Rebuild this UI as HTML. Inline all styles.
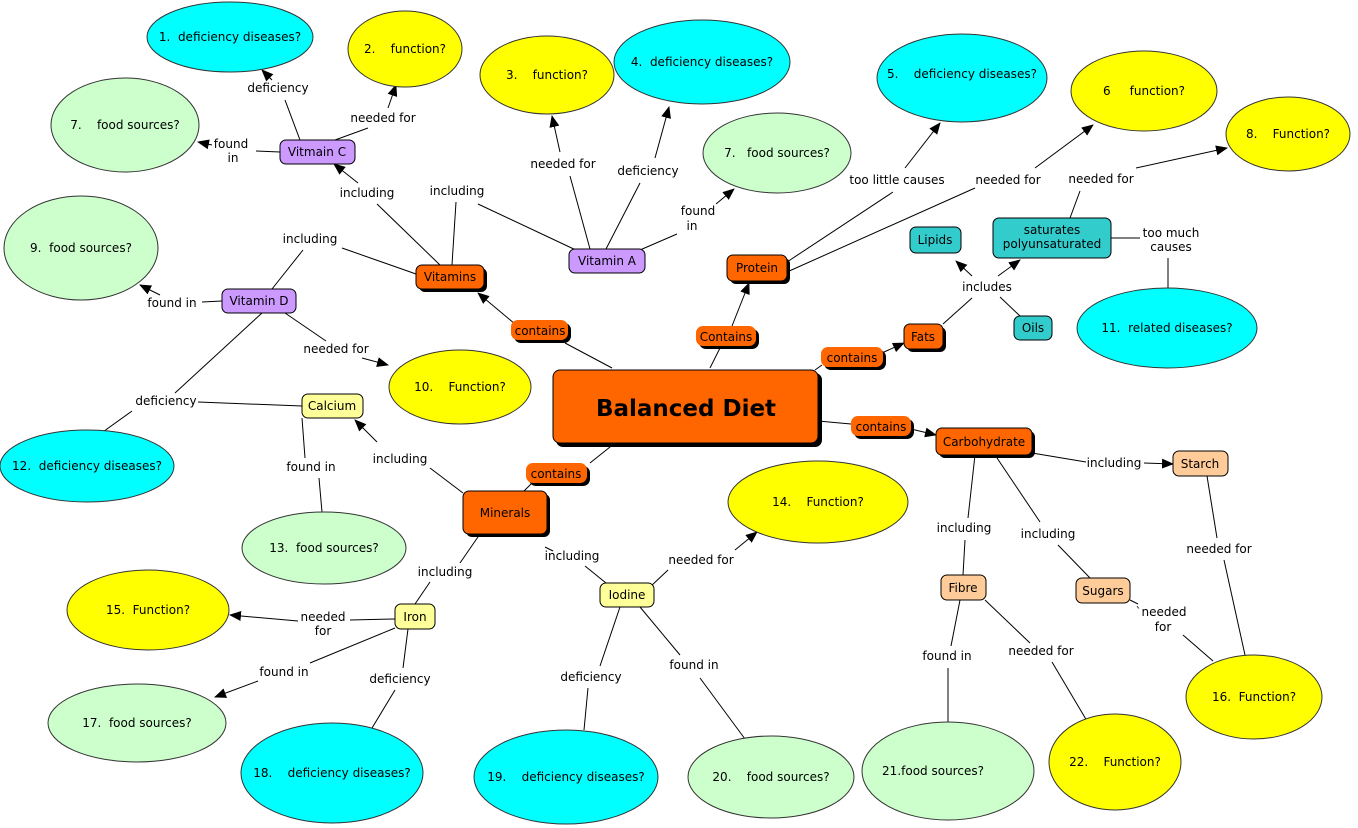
<!DOCTYPE html>
<html><head><meta charset="utf-8"><style>
html,body{margin:0;padding:0;background:#fff;}
svg{display:block;}
text{font-family:"DejaVu Sans","Liberation Sans",sans-serif;font-size:12px;fill:#000;white-space:pre;}
.l{stroke:#000;stroke-width:1;fill:none;}
.a{stroke:#000;stroke-width:1;fill:none;marker-end:url(#ar);}
.cy{fill:#00ffff;stroke:#333;stroke-width:1;}
.ye{fill:#ffff00;stroke:#333;stroke-width:1;}
.gr{fill:#ccffcc;stroke:#333;stroke-width:1;}
.or{fill:#ff6600;stroke:#000;stroke-width:1;}
.sh{fill:#000;}
.pu{fill:#cc99ff;stroke:#000;stroke-width:1;}
.te{fill:#33cccc;stroke:#000;stroke-width:1;}
.pe{fill:#ffcc99;stroke:#000;stroke-width:1;}
.ly{fill:#ffff99;stroke:#000;stroke-width:1;}
.pl{fill:#ff6600;}
</style></head><body>
<svg width="1358" height="828" viewBox="0 0 1358 828" xmlns="http://www.w3.org/2000/svg" xml:space="preserve">
<defs><marker id="ar" markerWidth="12" markerHeight="10" refX="11" refY="5" orient="auto" markerUnits="userSpaceOnUse"><path d="M0,0 L12,5 L0,10 z" fill="#000"/></marker></defs>

<g>
<line class="l" x1="300" y1="140" x2="285" y2="100"/><line class="a" x1="272" y1="80" x2="262" y2="70"/>
<line class="l" x1="335" y1="140" x2="368" y2="128"/><line class="a" x1="388" y1="108" x2="396" y2="85"/>
<line class="l" x1="280" y1="152" x2="256" y2="151"/><line class="a" x1="212" y1="145" x2="198" y2="142"/>
<line class="l" x1="440" y1="265" x2="377" y2="204"/><line class="a" x1="358" y1="183" x2="334" y2="164"/>
<line class="l" x1="452" y1="265" x2="456" y2="202"/><line class="l" x1="478" y1="204" x2="578" y2="251"/>
<line class="l" x1="416" y1="274" x2="342" y2="248"/><line class="l" x1="303" y1="250" x2="272" y2="289"/>
<line class="l" x1="222" y1="301" x2="202" y2="302"/><line class="a" x1="160" y1="295" x2="140" y2="285"/>
<line class="l" x1="285" y1="313" x2="326" y2="341"/><line class="a" x1="362" y1="358" x2="388" y2="365"/>
<line class="l" x1="262" y1="313" x2="175" y2="393"/><line class="l" x1="132" y1="411" x2="100" y2="434"/>
<line class="l" x1="302" y1="406" x2="198" y2="402"/>
<line class="l" x1="302" y1="418" x2="305" y2="458"/><line class="l" x1="319" y1="478" x2="322" y2="512"/>
<line class="l" x1="463" y1="493" x2="430" y2="468"/><line class="a" x1="377" y1="442" x2="355" y2="420"/>
<line class="l" x1="590" y1="249" x2="570" y2="176"/><line class="a" x1="560" y1="152" x2="552" y2="116"/>
<line class="l" x1="606" y1="249" x2="640" y2="183"/><line class="a" x1="655" y1="158" x2="669" y2="107"/>
<line class="l" x1="640" y1="250" x2="677" y2="234"/><line class="a" x1="716" y1="204" x2="734" y2="189"/>
<line class="l" x1="612" y1="368" x2="565" y2="343"/><line class="a" x1="515" y1="324" x2="478" y2="293"/>
<line class="l" x1="710" y1="368" x2="720" y2="348"/><line class="a" x1="732" y1="326" x2="749" y2="283"/>
<line class="l" x1="787" y1="262" x2="893" y2="192"/><line class="a" x1="905" y1="168" x2="940" y2="123"/>
<line class="l" x1="787" y1="272" x2="975" y2="188"/><line class="a" x1="1035" y1="168" x2="1093" y2="125"/>
<line class="l" x1="815" y1="370" x2="822" y2="365"/><line class="a" x1="884" y1="352" x2="904" y2="343"/>
<line class="l" x1="943" y1="324" x2="972" y2="298"/><line class="a" x1="972" y1="276" x2="956" y2="261"/><line class="a" x1="998" y1="276" x2="1020" y2="260"/>
<line class="l" x1="1020" y1="316" x2="1000" y2="297"/>
<line class="l" x1="1070" y1="218" x2="1080" y2="191"/><line class="a" x1="1136" y1="168" x2="1227" y2="148"/>
<line class="l" x1="1111" y1="238" x2="1140" y2="238"/><line class="l" x1="1168" y1="258" x2="1168" y2="288"/>
<line class="l" x1="818" y1="421" x2="851" y2="424"/><line class="a" x1="911" y1="429" x2="936" y2="435"/>
<line class="l" x1="1032" y1="453" x2="1086" y2="462"/><line class="a" x1="1144" y1="463" x2="1173" y2="464"/>
<line class="l" x1="975" y1="455" x2="968" y2="518"/><line class="l" x1="965" y1="540" x2="963" y2="575"/>
<line class="l" x1="995" y1="455" x2="1040" y2="522"/><line class="l" x1="1058" y1="545" x2="1090" y2="578"/>
<line class="l" x1="1207" y1="476" x2="1217" y2="538"/><line class="l" x1="1224" y1="560" x2="1245" y2="655"/>
<line class="l" x1="1130" y1="600" x2="1138" y2="604"/><line class="l" x1="1183" y1="635" x2="1213" y2="661"/>
<line class="l" x1="960" y1="600" x2="951" y2="646"/><line class="l" x1="948" y1="668" x2="948" y2="722"/>
<line class="l" x1="985" y1="600" x2="1030" y2="643"/><line class="l" x1="1052" y1="662" x2="1087" y2="721"/>
<line class="l" x1="615" y1="443" x2="590" y2="463"/><line class="l" x1="532" y1="483" x2="524" y2="491"/>
<line class="l" x1="480" y1="534" x2="460" y2="563"/><line class="l" x1="430" y1="582" x2="415" y2="604"/>
<line class="l" x1="545" y1="547" x2="553" y2="551"/><line class="l" x1="585" y1="566" x2="606" y2="583"/>
<line class="l" x1="650" y1="587" x2="668" y2="570"/><line class="a" x1="735" y1="550" x2="757" y2="532"/>
<line class="l" x1="620" y1="607" x2="600" y2="666"/><line class="l" x1="588" y1="688" x2="584" y2="730"/>
<line class="l" x1="640" y1="607" x2="680" y2="655"/><line class="l" x1="700" y1="678" x2="745" y2="739"/>
<line class="l" x1="395" y1="619" x2="350" y2="620"/><line class="a" x1="298" y1="621" x2="230" y2="615"/>
<line class="l" x1="395" y1="628" x2="310" y2="663"/><line class="a" x1="258" y1="681" x2="215" y2="697"/>
<line class="l" x1="408" y1="629" x2="403" y2="668"/><line class="l" x1="395" y1="690" x2="372" y2="728"/>
</g>

<ellipse class="cy" cx="230" cy="37" rx="83" ry="35"/><text x="230" y="41" text-anchor="middle">1.  deficiency diseases?</text>
<ellipse class="ye" cx="405" cy="49" rx="57" ry="38"/><text x="405" y="53" text-anchor="middle">2.    function?</text>
<ellipse class="ye" cx="547" cy="75" rx="67" ry="39"/><text x="547" y="79" text-anchor="middle">3.    function?</text>
<ellipse class="cy" cx="702" cy="62" rx="88" ry="42"/><text x="702" y="66" text-anchor="middle">4.  deficiency diseases?</text>
<ellipse class="gr" cx="777" cy="153" rx="74" ry="40"/><text x="777" y="157" text-anchor="middle">7.   food sources?</text>
<ellipse class="cy" cx="962" cy="78" rx="85" ry="44"/><text x="962" y="78" text-anchor="middle">5.    deficiency diseases?</text>
<ellipse class="ye" cx="1144" cy="91" rx="73" ry="40"/><text x="1144" y="95" text-anchor="middle">6     function?</text>
<ellipse class="ye" cx="1288" cy="134" rx="62" ry="37"/><text x="1288" y="138" text-anchor="middle">8.    Function?</text>
<ellipse class="gr" cx="125" cy="125" rx="74" ry="47"/><text x="125" y="129" text-anchor="middle">7.    food sources?</text>
<ellipse class="gr" cx="81" cy="248" rx="77" ry="52"/><text x="81" y="252" text-anchor="middle">9.  food sources?</text>
<ellipse class="ye" cx="460" cy="387" rx="71" ry="37"/><text x="460" y="391" text-anchor="middle">10.    Function?</text>
<ellipse class="cy" cx="1167" cy="328" rx="90" ry="40"/><text x="1167" y="332" text-anchor="middle">11.  related diseases?</text>
<ellipse class="cy" cx="87" cy="466" rx="87" ry="36"/><text x="87" y="470" text-anchor="middle">12.  deficiency diseases?</text>
<ellipse class="gr" cx="324" cy="548" rx="82" ry="36"/><text x="324" y="552" text-anchor="middle">13.  food sources?</text>
<ellipse class="ye" cx="818" cy="502" rx="90" ry="41"/><text x="818" y="506" text-anchor="middle">14.    Function?</text>
<ellipse class="ye" cx="148" cy="610" rx="81" ry="40"/><text x="148" y="614" text-anchor="middle">15.  Function?</text>
<ellipse class="ye" cx="1254" cy="697" rx="68" ry="42"/><text x="1254" y="701" text-anchor="middle">16.  Function?</text>
<ellipse class="gr" cx="137" cy="723" rx="89" ry="39"/><text x="137" y="727" text-anchor="middle">17.  food sources?</text>
<ellipse class="cy" cx="332" cy="773" rx="91" ry="50"/><text x="332" y="777" text-anchor="middle">18.    deficiency diseases?</text>
<ellipse class="cy" cx="566" cy="777" rx="92" ry="47"/><text x="566" y="781" text-anchor="middle">19.    deficiency diseases?</text>
<ellipse class="gr" cx="771" cy="777" rx="83" ry="41"/><text x="771" y="781" text-anchor="middle">20.    food sources?</text>
<ellipse class="gr" cx="948" cy="771" rx="86" ry="49"/><text x="933" y="775" text-anchor="middle">21.food sources?</text>
<ellipse class="ye" cx="1115" cy="762" rx="66" ry="48"/><text x="1115" y="766" text-anchor="middle">22.    Function?</text>

<rect class="sh" x="556" y="373" width="266" height="74" rx="7"/><rect class="or" x="553" y="370" width="265" height="73" rx="7"/>
<text x="686" y="416" text-anchor="middle" style="font-size:23px;font-weight:bold">Balanced Diet</text>
<rect class="sh" x="419" y="268" width="68" height="24" rx="6"/><rect class="or" x="416" y="265" width="68" height="24" rx="6"/><text x="450" y="281" text-anchor="middle">Vitamins</text>
<rect class="sh" x="730" y="258" width="60" height="26" rx="6"/><rect class="or" x="727" y="255" width="60" height="26" rx="6"/><text x="757" y="272" text-anchor="middle">Protein</text>
<rect class="sh" x="907" y="327" width="39" height="25" rx="6"/><rect class="or" x="904" y="324" width="39" height="25" rx="6"/><text x="923" y="341" text-anchor="middle">Fats</text>
<rect class="sh" x="939" y="431" width="96" height="27" rx="6"/><rect class="or" x="936" y="428" width="96" height="27" rx="6"/><text x="984" y="446" text-anchor="middle">Carbohydrate</text>
<rect class="sh" x="466" y="494" width="84" height="43" rx="6"/><rect class="or" x="463" y="491" width="84" height="43" rx="6"/><text x="505" y="517" text-anchor="middle">Minerals</text>

<rect class="sh" x="514" y="323" width="57" height="20" rx="7"/><rect class="pl" x="511" y="320" width="57" height="20" rx="7"/><text x="540" y="335" text-anchor="middle">contains</text>
<rect class="sh" x="699" y="329" width="60" height="20" rx="7"/><rect class="pl" x="696" y="326" width="60" height="20" rx="7"/><text x="726" y="341" text-anchor="middle">Contains</text>
<rect class="sh" x="824" y="350" width="62" height="20" rx="7"/><rect class="pl" x="821" y="347" width="62" height="20" rx="7"/><text x="852" y="362" text-anchor="middle">contains</text>
<rect class="sh" x="854" y="419" width="60" height="20" rx="7"/><rect class="pl" x="851" y="416" width="60" height="20" rx="7"/><text x="881" y="431" text-anchor="middle">contains</text>
<rect class="sh" x="529" y="466" width="61" height="20" rx="7"/><rect class="pl" x="526" y="463" width="61" height="20" rx="7"/><text x="556" y="478" text-anchor="middle">contains</text>

<rect class="pu" x="280" y="140" width="75" height="24" rx="6"/><text x="317" y="156" text-anchor="middle">Vitmain C</text>
<rect class="pu" x="569" y="249" width="76" height="24" rx="6"/><text x="607" y="265" text-anchor="middle">Vitamin A</text>
<rect class="pu" x="222" y="289" width="74" height="24" rx="6"/><text x="259" y="305" text-anchor="middle">Vitamin D</text>
<rect class="te" x="910" y="227" width="51" height="26" rx="6"/><text x="935" y="244" text-anchor="middle">Lipids</text>
<rect class="te" x="993" y="218" width="118" height="40" rx="6"/><text x="1052" y="234" text-anchor="middle">saturates</text><text x="1052" y="248" text-anchor="middle">polyunsaturated</text>
<rect class="te" x="1014" y="316" width="38" height="24" rx="6"/><text x="1033" y="332" text-anchor="middle">Oils</text>
<rect class="pe" x="1173" y="451" width="55" height="25" rx="6"/><text x="1200" y="468" text-anchor="middle">Starch</text>
<rect class="ly" x="302" y="394" width="61" height="24" rx="6"/><text x="332" y="410" text-anchor="middle">Calcium</text>
<rect class="ly" x="600" y="583" width="54" height="24" rx="6"/><text x="627" y="599" text-anchor="middle">Iodine</text>
<rect class="ly" x="395" y="604" width="40" height="25" rx="6"/><text x="415" y="621" text-anchor="middle">Iron</text>
<rect class="pe" x="941" y="575" width="45" height="25" rx="6"/><text x="963" y="592" text-anchor="middle">Fibre</text>
<rect class="pe" x="1076" y="578" width="54" height="25" rx="6"/><text x="1103" y="595" text-anchor="middle">Sugars</text>

<g text-anchor="middle">
<text x="278" y="92">deficiency</text>
<text x="383" y="122">needed for</text>
<text x="231" y="148">found</text><text x="233" y="162">in</text>
<text x="367" y="197">including</text>
<text x="457" y="195">including</text>
<text x="310" y="243">including</text>
<text x="172" y="307">found in</text>
<text x="336" y="353">needed for</text>
<text x="166" y="405">deficiency</text>
<text x="311" y="471">found in</text>
<text x="400" y="463">including</text>
<text x="563" y="168">needed for</text>
<text x="648" y="175">deficiency</text>
<text x="698" y="215">found</text><text x="692" y="230">in</text>
<text x="897" y="184">too little causes</text>
<text x="1008" y="184">needed for</text>
<text x="987" y="291">includes</text>
<text x="1101" y="183">needed for</text>
<text x="1171" y="237">too much</text><text x="1171" y="251">causes</text>
<text x="1114" y="467">including</text>
<text x="964" y="532">including</text>
<text x="1048" y="538">including</text>
<text x="1219" y="553">needed for</text>
<text x="1161" y="616">`needed</text><text x="1163" y="631">for</text>
<text x="947" y="660">found in</text>
<text x="1041" y="655">needed for</text>
<text x="445" y="576">including</text>
<text x="572" y="560">including</text>
<text x="701" y="564">needed for</text>
<text x="591" y="681">deficiency</text>
<text x="694" y="669">found in</text>
<text x="323" y="621">needed</text><text x="323" y="635">for</text>
<text x="284" y="676">found in</text>
<text x="400" y="683">deficiency</text>
</g>
</svg>
</body></html>
